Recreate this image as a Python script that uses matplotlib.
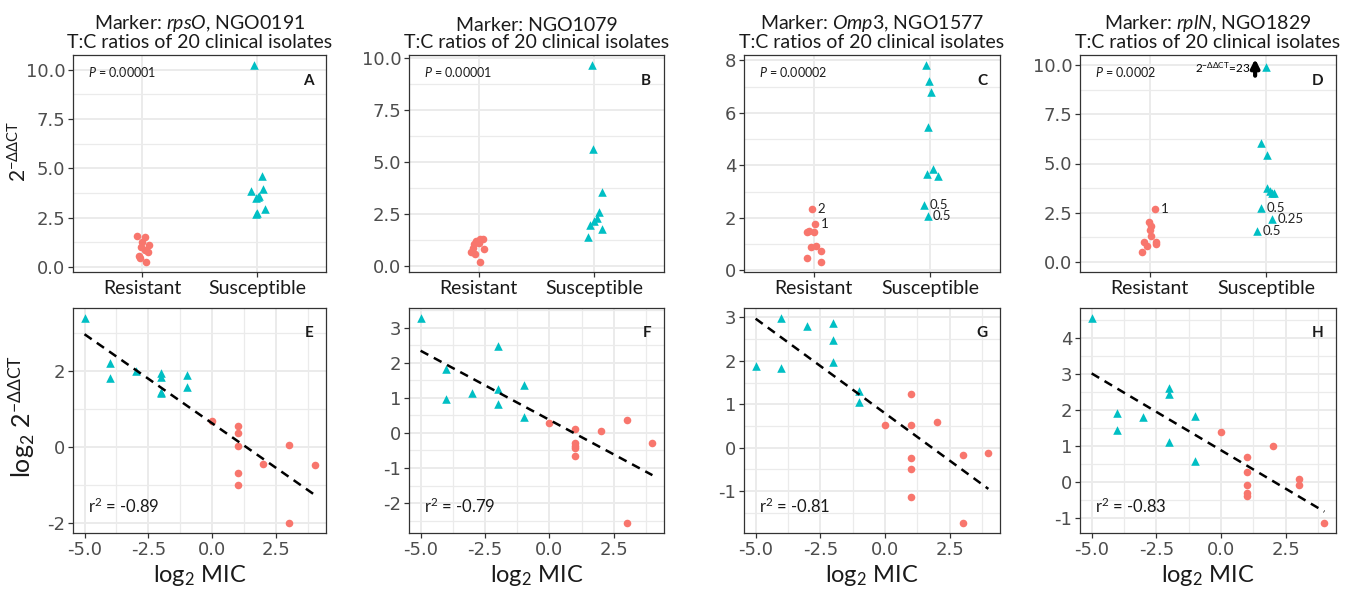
import matplotlib
matplotlib.use("Agg")
import matplotlib.pyplot as plt
import numpy as np

plt.rcParams['font.family'] = ['Lato', 'DejaVu Sans']
plt.rcParams['mathtext.fontset'] = 'custom'
plt.rcParams['mathtext.rm'] = 'Lato'
plt.rcParams['mathtext.it'] = 'Lato:italic'
plt.rcParams['mathtext.bf'] = 'Lato:bold'
plt.rcParams['axes.unicode_minus'] = False

RED = '#F8766D'
CYAN = '#00BFC4'
GRID = '#EBEBEB'
NUMFONT = dict(fontfamily='DejaVu Sans', fontsize=13, color='#4D4D4D')

groups = ['Resistant', 'Susceptible']

# ---- top row: 2^-ddCT by group (value, jitter offset, side label) ----
a_res = [1.59, 1.5, 1.25, 1.12, 1.0, 0.87, 0.75, 0.58, 0.47, 0.25]
a_res_jit = [-0.046, 0.026, 0.0, 0.064, -0.009, 0.026, 0.049, -0.029, -0.017, 0.035]
a_sus = [10.25, 4.6, 3.96, 3.88, 3.6, 3.55, 3.48, 2.96, 2.72, 2.7]
a_sus_jit = [-0.029, 0.043, 0.049, -0.052, 0.02, 0.006, -0.009, 0.072, 0.0, -0.005]

b_res = [1.32, 1.28, 1.23, 1.12, 1.04, 0.85, 0.8, 0.69, 0.56, 0.19]
b_res_jit = [0.014, 0.038, -0.02, 0.0, -0.038, -0.049, 0.049, -0.067, -0.029, 0.014]
b_sus = [9.68, 5.63, 3.54, 2.6, 2.31, 2.18, 1.96, 1.8, 1.39]
b_sus_jit = [-0.023, -0.014, 0.064, 0.035, 0.023, 0.0, -0.035, 0.067, -0.052]

c_res = [2.35, 1.75, 1.49, 1.46, 1.44, 0.87, 0.94, 0.72, 0.48, 0.31]
c_res_jit = [-0.014, 0.014, -0.043, 0.0, -0.057, -0.023, 0.023, 0.066, -0.057, 0.063]
c_res_lab = ['2', '1', '', '', '', '', '', '', '', '']
c_sus = [7.83, 7.22, 6.81, 5.46, 3.87, 3.67, 3.58, 2.48, 2.07]
c_sus_jit = [-0.037, -0.009, 0.011, -0.023, 0.02, -0.029, 0.069, -0.052, -0.023]
c_sus_lab = ['', '', '', '', '', '', '', '0.5', '0.5']

d_res = [2.68, 2.04, 1.84, 1.64, 1.31, 1.04, 1.0, 0.92, 0.84, 0.5]
d_res_jit = [0.043, -0.011, 0.009, 0.003, 0.014, 0.051, -0.048, 0.051, -0.02, -0.068]
d_res_lab = ['1', '', '', '', '', '', '', '', '', '']
d_sus = [23.0, 6.05, 5.43, 3.76, 3.6, 3.51, 3.48, 2.76, 2.2, 1.59]
d_sus_jit = [0.0, -0.046, 0.006, 0.006, 0.034, 0.048, 0.063, -0.046, 0.048, -0.08]
d_sus_lab = ['', '', '', '', '', '', '', '0.5', '0.25', '0.5']
d_cap = 9.87   # off-scale value drawn at the top with an arrow
d_limits = (0, 10)

# ---- bottom row: log2 MIC vs log2 2^-ddCT ----
e_sus_x = [-5, -4, -4, -3, -2, -2, -2, -2, -1, -1]
e_sus_y = [3.38, 2.21, 1.80, 2.0, 1.95, 1.84, 1.45, 1.42, 1.89, 1.57]
e_res_x = [0, 1, 1, 1, 1, 1, 2, 3, 3, 4]
e_res_y = [0.68, 0.56, 0.36, 0.02, -0.69, -0.99, -0.45, 0.06, -1.99, -0.47]

f_sus_x = [-5, -2, -4, -4, -3, -2, -2, -1, -1]
f_sus_y = [3.27, 2.49, 1.81, 0.98, 1.15, 1.24, 0.83, 1.37, 0.45]
f_res_x = [0, 1, 1, 1, 1, 1, 2, 3, 3, 4]
f_res_y = [0.29, 0.1, -0.28, -0.36, -0.42, -0.66, 0.05, 0.38, -2.56, -0.28]

g_sus_x = [-5, -4, -4, -3, -2, -2, -2, -1, -1]
g_sus_y = [1.88, 2.98, 1.84, 2.79, 2.86, 2.47, 1.97, 1.3, 1.04]
g_res_x = [0, 1, 1, 1, 1, 1, 2, 3, 3, 4]
g_res_y = [0.53, 1.23, 0.52, -0.25, -0.5, -1.14, 0.6, -0.17, -1.73, -0.12]

h_sus_x = [-5, -4, -4, -3, -2, -2, -2, -1, -1]
h_sus_y = [4.55, 1.91, 1.45, 1.82, 2.62, 2.46, 1.11, 1.84, 0.6]
h_res_x = [0, 1, 1, 1, 1, 1, 2, 3, 3, 4]
h_res_y = [1.4, 0.69, 0.3, -0.06, -0.29, -0.39, 1.0, 0.09, -0.06, -1.12]

titles = ['Marker: $\\mathit{rpsO}$, NGO0191', 'Marker: NGO1079',
          'Marker: $\\mathit{Omp3}$, NGO1577', 'Marker: $\\mathit{rplN}$, NGO1829']
p_values = ['0.00001', '0.00001', '0.00002', '0.0002']
r2_values = ['-0.89', '-0.79', '-0.81', '-0.83']
top_letters = ['A', 'B', 'C', 'D']
bot_letters = ['E', 'F', 'G', 'H']

fig = plt.figure(figsize=(13.52, 5.99), dpi=100)
W, H = 1352, 599
lefts = [73, 409, 744, 1080]
widths = [253, 255, 256, 256]


def style(ax):
    ax.set_axisbelow(True)
    ax.grid(True, which='major', color=GRID, lw=1.4)
    ax.grid(True, which='minor', color=GRID, lw=0.9)
    for s in ax.spines.values():
        s.set_color('#333333')
        s.set_linewidth(0.9)
    ax.tick_params(which='major', length=3.5, width=0.9, color='#333333', pad=2)
    ax.tick_params(which='minor', length=0)


top_data = [
    (a_res, a_res_jit, None, a_sus, a_sus_jit, None, [0, 2.5, 5, 7.5, 10]),
    (b_res, b_res_jit, None, b_sus, b_sus_jit, None, [0, 2.5, 5, 7.5, 10]),
    (c_res, c_res_jit, c_res_lab, c_sus, c_sus_jit, c_sus_lab, [0, 2, 4, 6, 8]),
    (d_res, d_res_jit, d_res_lab, d_sus, d_sus_jit, d_sus_lab, [0, 2.5, 5, 7.5, 10]),
]
bot_data = [
    (e_sus_x, e_sus_y, e_res_x, e_res_y, [-2, 0, 2]),
    (f_sus_x, f_sus_y, f_res_x, f_res_y, [-2, -1, 0, 1, 2, 3]),
    (g_sus_x, g_sus_y, g_res_x, g_res_y, [-1, 0, 1, 2, 3]),
    (h_sus_x, h_sus_y, h_res_x, h_res_y, [-1, 0, 1, 2, 3, 4]),
]

for i in range(4):
    # ---------- top panel ----------
    ax = fig.add_axes([lefts[i] / W, 1 - 272 / H, widths[i] / W, 217 / H])
    res, rj, rl, sus, sj, sl, yt = top_data[i]
    sus_plot = np.minimum(sus, d_cap) if i == 3 else np.array(sus)
    xr = 1 + np.array(rj)
    xs = 2 + np.array(sj)
    ax.scatter(xr, res, s=30, color=RED, marker='o', lw=0, zorder=3)
    ax.scatter(xs, sus_plot, s=38, color=CYAN, marker='^', lw=0, zorder=3)
    for lab_list, xx, yy in ((rl, xr, res), (sl, xs, sus_plot)):
        if lab_list is None:
            continue
        for lab, x, y in zip(lab_list, xx, yy):
            if lab:
                ax.annotate(lab, (x, y), xytext=(4, 0), textcoords='offset points',
                            ha='left', va='center', fontsize=9.5, color='#222222')
    ax.set_xticks([1, 2])
    ax.set_xticklabels(groups, fontfamily='Lato', fontsize=14, color='#1A1A1A')
    ax.set_yticks(yt)
    step = yt[1] - yt[0]
    ax.set_yticks(np.arange(yt[0] + step / 2, yt[-1] + step, step), minor=True)
    if step == 2.5:
        ax.set_yticklabels(['%.1f' % v for v in yt], **NUMFONT)
    else:
        ax.set_yticklabels(['%d' % v for v in yt], **NUMFONT)
    ax.set_xlim(0.4, 2.6)
    if i == 3:
        lo, hi = d_limits
    else:
        allv = np.concatenate([res, sus_plot])
        lo, hi = allv.min(), allv.max()
    pad = 0.05 * (hi - lo)
    ax.set_ylim(lo - pad, hi + pad)
    style(ax)
    ax.set_title(titles[i] + '\nT:C ratios of 20 clinical isolates',
                 fontsize=14, linespacing=1.0, pad=5, color='#1A1A1A')
    ax.text(0.06, 0.955, '$\\mathit{P}$ = ' + p_values[i], transform=ax.transAxes,
            fontsize=9, ha='left', va='top', color='#1A1A1A')
    ax.text(0.95, 0.88, top_letters[i], transform=ax.transAxes, fontsize=11,
            fontweight='bold', ha='right', va='center', color='#1A1A1A')
    if i == 3:
        ax.annotate('', xy=(1.905, 10.3), xytext=(1.905, 9.45),
                    arrowprops=dict(arrowstyle='-|>', lw=3, color='black',
                                    mutation_scale=12, shrinkA=0, shrinkB=0))
        ax.text(1.86, d_cap, '2$^{-\\Delta\\Delta\\mathrm{CT}}$=23', ha='right',
                va='center', fontsize=8.5, color='black')

    # ---------- bottom panel ----------
    ax = fig.add_axes([lefts[i] / W, 1 - 533 / H, widths[i] / W, 225 / H])
    sx, sy, rx, ry, yt = bot_data[i]
    ax.scatter(sx, sy, s=38, color=CYAN, marker='^', lw=0, zorder=3)
    ax.scatter(rx, ry, s=30, color=RED, marker='o', lw=0, zorder=3)
    allx = np.concatenate([sx, rx]).astype(float)
    ally = np.concatenate([sy, ry])
    k, b = np.polyfit(allx, ally, 1)
    xl = np.array([allx.min(), allx.max()])
    ax.plot(xl, k * xl + b, color='black', lw=1.8, ls=(0, (3.5, 2.5)), zorder=4)
    ax.set_xticks([-5, -2.5, 0, 2.5])
    ax.set_xticklabels(['-5.0', '-2.5', '0.0', '2.5'], **NUMFONT)
    ax.set_xticks([-3.75, -1.25, 1.25, 3.75], minor=True)
    ax.set_yticks(yt)
    ax.set_yticklabels(['%d' % v for v in yt], **NUMFONT)
    ystep = yt[1] - yt[0]
    ax.set_yticks(np.arange(yt[0] - ystep / 2, yt[-1] + ystep, ystep), minor=True)
    ax.set_xlim(-5.45, 4.45)
    pad = 0.05 * (ally.max() - ally.min())
    ax.set_ylim(ally.min() - pad, ally.max() + pad)
    style(ax)
    ax.set_xlabel('log$_2$ MIC', fontsize=17, labelpad=3, color='#1A1A1A')
    ax.text(0.06, 0.075, 'r$^2$ = ' + r2_values[i], transform=ax.transAxes,
            fontsize=12, ha='left', va='bottom', color='#1A1A1A')
    ax.text(0.95, 0.89, bot_letters[i], transform=ax.transAxes, fontsize=11,
            fontweight='bold', ha='right', va='center', color='#1A1A1A')

# row y-axis titles
fig.text(19 / W, 1 - 152 / H, '2$^{-\\Delta\\Delta\\mathrm{CT}}$', rotation=90,
         ha='center', va='center', fontsize=15, color='#1A1A1A')
fig.text(22 / W, 1 - 417 / H, 'log$_2$ 2$^{-\\Delta\\Delta\\mathrm{CT}}$', rotation=90,
         ha='center', va='center', fontsize=18, color='#1A1A1A')

fig.savefig('out.png', dpi=100)
